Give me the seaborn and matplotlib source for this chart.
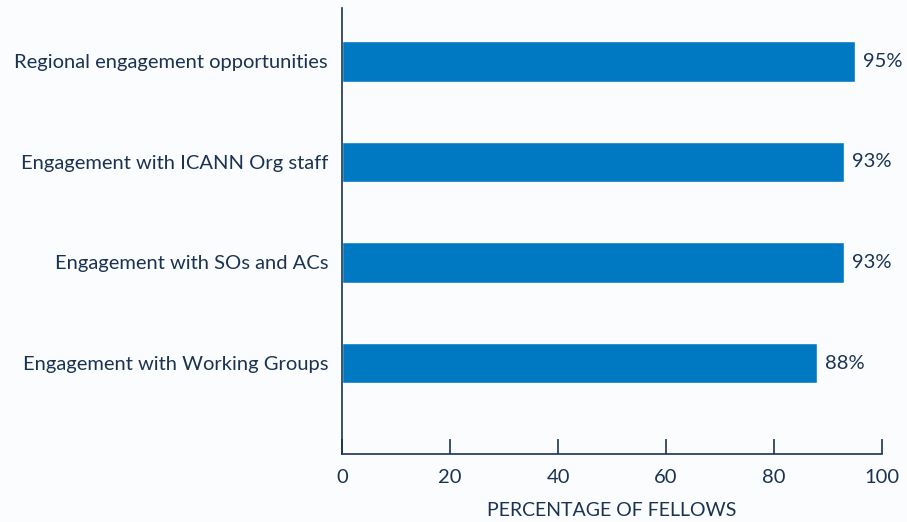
import pandas as pd
import matplotlib.pyplot as plt
import seaborn as sns

# Chart data
categories = [
    "Regional engagement opportunities",
    "Engagement with ICANN Org staff",
    "Engagement with SOs and ACs",
    "Engagement with Working Groups",
]
percentages = [95, 93, 93, 88]
x_ticks = [0, 20, 40, 60, 80, 100]

BAR_COLOR = "#0079c2"
TEXT_COLOR = "#1b3350"

sns.set_theme(style="white")
plt.rcParams['font.family'] = ['Lato', 'DejaVu Sans']

df = pd.DataFrame({"category": categories, "pct": percentages})

fig = plt.figure(figsize=(9.07, 5.22), dpi=100, facecolor="#fafcfd")
ax = fig.add_axes([0.377, 0.1303, 0.5956, 0.8544])
ax.set_facecolor("none")

sns.barplot(data=df, x="pct", y="category", orient="h", color=BAR_COLOR,
            width=0.405, saturation=1, ax=ax)

# Value labels at bar ends
for i, v in enumerate(percentages):
    ax.text(v + 1.5, i, f"{v}%", va="center", ha="left",
            fontsize=14.5, color=TEXT_COLOR)

ax.set_xlim(0, 100)
ax.set_ylim(3.905, -0.532)
ax.set_xticks(x_ticks)
ax.set_xlabel("PERCENTAGE OF FELLOWS", fontsize=14, color=TEXT_COLOR, labelpad=12)
ax.set_ylabel("")

for side in ["top", "right"]:
    ax.spines[side].set_visible(False)
for side in ["left", "bottom"]:
    ax.spines[side].set_color(TEXT_COLOR)
    ax.spines[side].set_linewidth(1.2)

ax.tick_params(axis="x", direction="in", length=11, width=1.2,
               colors=TEXT_COLOR, labelsize=14.5, pad=10.5, bottom=True)
ax.tick_params(axis="y", length=0, labelsize=14.5, colors=TEXT_COLOR, pad=10)

fig.savefig("out.png", dpi=100, facecolor=fig.get_facecolor())
